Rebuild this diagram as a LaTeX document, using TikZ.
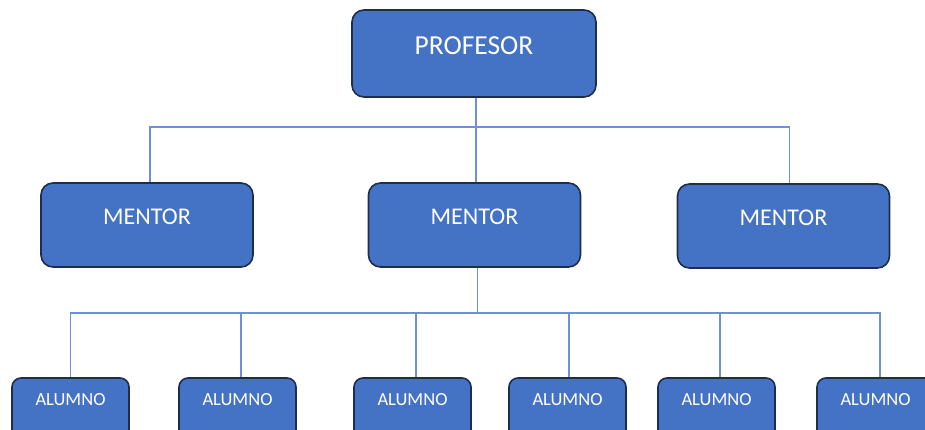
\documentclass[tikz,border=0pt]{standalone}
\usepackage{fontspec}
\setmainfont{Carlito}
\usetikzlibrary{positioning}
\definecolor{boxblue}{HTML}{4472C4}
\definecolor{boxedge}{HTML}{1F2D4A}
\definecolor{linkblue}{HTML}{6E90DA}

\begin{document}
\begin{tikzpicture}[
x=1pt, y=-1pt,
box/.style={
    draw=boxedge,
    line width=1.6pt,
    fill=boxblue,
    rounded corners=12pt,
    text=white,
    inner sep=0pt
    },
chief/.style={box, minimum width=244pt, minimum height=87pt, font=\fontsize{27.5}{30}\selectfont},
mentorbox/.style={box, minimum width=212pt, minimum height=84pt, font=\fontsize{24}{26}\selectfont},
pupil/.style={box, minimum width=117pt, minimum height=64pt, rounded corners=9pt, font=\fontsize{18.5}{20}\selectfont},
link/.style={draw=linkblue, line width=1.1pt}
]

\useasboundingbox (0,0) rectangle (925,430);
\clip (0,0) rectangle (925,430);

\coordinate (topbar) at (0,127);
\coordinate (lowbar) at (0,313);

\node[chief] (prof) at (474,53.5) {\raisebox{7.5pt}[\height][\depth]{PROFESOR}};
\node[mentorbox] (men1) at (147,225) {\raisebox{8pt}[\height][\depth]{MENTOR}};
\node[mentorbox] (men2) at (474.5,225) {\raisebox{8pt}[\height][\depth]{MENTOR}};
\node[mentorbox] (men3) at (783.5,226) {\raisebox{8pt}[\height][\depth]{MENTOR}};
\foreach \x [count=\i] in {70.5,237.5,412.5,567.5,716.5,875.5}
    \node[pupil] (alu\i) at (\x,410) {\raisebox{10pt}[\height][\depth]{ALUMNO}};

\draw[link] ([xshift=2pt]prof.south) -- ([xshift=2pt]prof.south |- men2.north);
\draw[link] ([xshift=3pt]men1.north) |- ([xshift=6pt]men3.north |- topbar) -- ([xshift=6pt]men3.north);
\draw[link] ([xshift=3pt]men2.south) -- ([xshift=3pt]men2.south |- lowbar);
\draw[link] (alu1.north) |- ([xshift=4.5pt]alu6.north |- lowbar) -- ([xshift=4.5pt]alu6.north);
\foreach \i/\s in {2/3.5,3/3.5,4/1.5,5/3.5}
    \draw[link] ([xshift=\s pt]alu\i.north) -- ([xshift=\s pt]alu\i.north |- lowbar);

\end{tikzpicture}
\end{document}
